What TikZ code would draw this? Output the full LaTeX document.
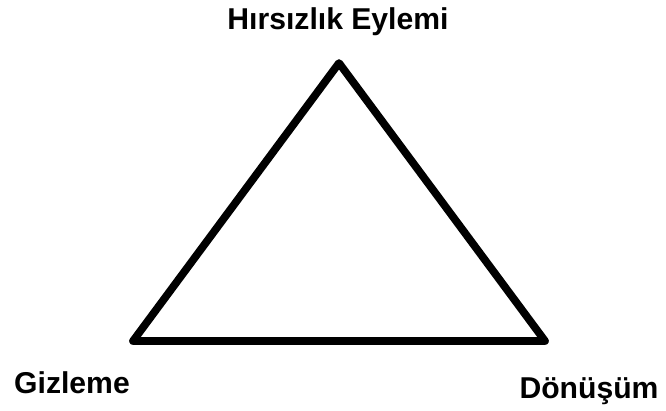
\documentclass[tikz,border=0pt]{standalone}
\usepackage{fontspec}
\setmainfont{Liberation Sans}
\usetikzlibrary{positioning}

\tikzset{
  etiket/.style={inner sep=0pt, anchor=base, font=\bfseries\fontsize{22.6}{26}\selectfont},
  kenar/.style={line width=5.8pt, line join=round}
}

\begin{document}
\begin{tikzpicture}[x=0.75pt, y=-0.75pt]

\useasboundingbox (0,0) rectangle (666,410);

\coordinate (tepe) at (339,63);
\coordinate (solalt) at (133,341);
\coordinate (sagalt) at (545,341);

\node (eylem) [etiket] at (338,30) {Hırsızlık Eylemi};
\node (gizleme) [etiket] at (72,393) {Gizleme};
\node (donusum) [etiket] at (589,398) {Dönüşüm};

\draw[kenar] (tepe) -- (sagalt) -- (solalt) -- cycle;

\end{tikzpicture}
\end{document}
